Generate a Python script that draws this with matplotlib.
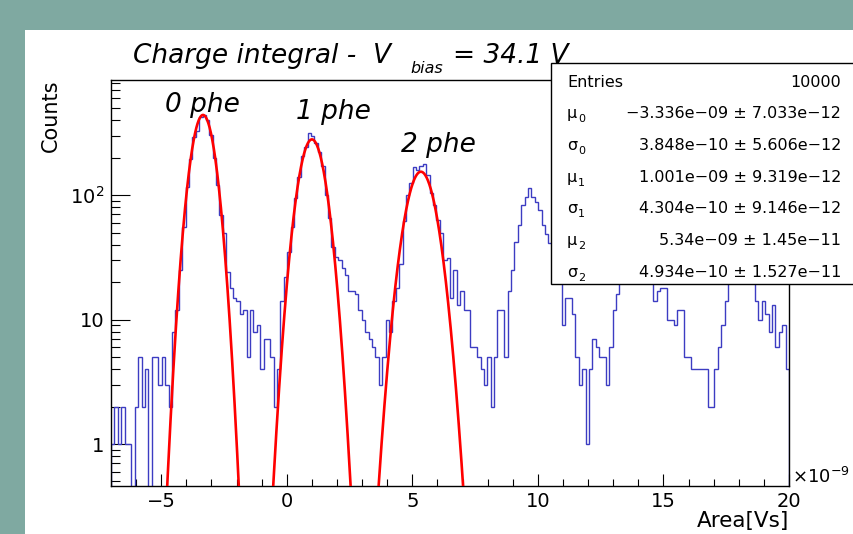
import matplotlib
matplotlib.use("Agg")
import matplotlib.pyplot as plt
import numpy as np
from matplotlib.patches import Rectangle
from matplotlib.ticker import MultipleLocator, LogLocator, NullFormatter

plt.rcParams['font.family'] = ['DejaVu Sans']
plt.rcParams['mathtext.fontset'] = 'dejavusans'

# ---------------- data ----------------
x_min, x_max, n_bins = -7.0, 20.0, 200   # Area in units of 1e-9 Vs
counts = [
    1, 2, 1, 2, 1, 1, 0, 2, 5, 2,
    4, 0, 5, 5, 3, 5, 3, 2, 8, 12,
    25, 55, 117, 196, 290, 330, 425, 440, 400, 302,
    200, 120, 69, 50, 24, 18, 15, 14, 11, 12,
    5, 12, 8, 9, 4, 7, 7, 5, 2, 4,
    14, 22, 35, 55, 95, 140, 205, 245, 318, 300,
    260, 220, 170, 100, 65, 38, 32, 30, 26, 23,
    17, 17, 16, 12, 10, 8, 7, 6, 5, 3,
    5, 10, 8, 14, 18, 28, 62, 100, 124, 169,
    160, 172, 178, 145, 103, 83, 63, 50, 30, 31,
    15, 25, 13, 17, 12, 12, 6, 6, 5, 4,
    3, 5, 2, 5, 12, 12, 5, 17, 25, 42,
    57, 83, 97, 115, 97, 88, 76, 57, 49, 41,
    27, 22, 21, 9, 15, 15, 11, 5, 3, 4,
    1, 4, 7, 6, 5, 5, 3, 6, 12, 16,
    22, 28, 35, 45, 55, 62, 60, 50, 38, 26,
    14, 17, 18, 18, 10, 10, 9, 12, 12, 5,
    5, 4, 4, 4, 4, 4, 2, 2, 4, 6,
    9, 14, 22, 26, 30, 33, 32, 28, 24, 21,
    14, 10, 14, 11, 8, 13, 6, 8, 9, 4,
]
fit_mu = [-3.336, 1.001, 5.34]        # x1e-9
fit_sigma = [0.3848, 0.4304, 0.4934]  # x1e-9
fit_amp = [440, 280, 154]

peak_labels = ["0 phe", "1 phe", "2 phe"]
x_ticks = [-5, 0, 5, 10, 15, 20]
x_tick_labels = ["\u22125", "0", "5", "10", "15", "20"]
y_ticks = [1, 10, 100]
y_tick_labels = ["1", "10", r"$\mathregular{10^{2}}$"]

stat_sym = ["Entries", "\u03bc", "\u03c3", "\u03bc", "\u03c3", "\u03bc", "\u03c3"]
stat_sub = ["", "0", "0", "1", "1", "2", "2"]
stat_val = ["10000",
            "\u22123.336e\u221209 \u00b1 7.033e\u221212",
            "3.848e\u221210 \u00b1 5.606e\u221212",
            "1.001e\u221209 \u00b1 9.319e\u221212",
            "4.304e\u221210 \u00b1 9.146e\u221212",
            "5.34e\u221209 \u00b1 1.45e\u221211",
            "4.934e\u221210 \u00b1 1.527e\u221211"]

# ---------------- figure ----------------
W, H = 854, 534
fig = plt.figure(figsize=(W / 100, H / 100), dpi=100)
fig.patch.set_facecolor('#7fa9a1')


def fx(x):
    return x / W


def fy(y):
    return 1 - y / H


fig.patches.append(Rectangle((fx(25), 0), 1 - fx(25), fy(30), transform=fig.transFigure,
                             facecolor='white', edgecolor='none', zorder=-5))

ax = fig.add_axes([fx(111), fy(486), fx(789) - fx(111), fy(80) - fy(486)])
ax.set_facecolor('white')

edges = np.linspace(x_min, x_max, n_bins + 1)
c = np.array(counts, dtype=float)
c_plot = np.where(c > 0, c, 1e-3)
ax.stairs(c_plot, edges, baseline=1e-3, color='#3c3cc2', lw=1.0, zorder=2)

for mu, sg, amp in zip(fit_mu, fit_sigma, fit_amp):
    xs = np.linspace(mu - 4.6 * sg, mu + 4.6 * sg, 400)
    ax.plot(xs, amp * np.exp(-0.5 * ((xs - mu) / sg) ** 2), color='#ff0000', lw=1.9, zorder=3)

ax.set_yscale('log')
ax.set_xlim(x_min, x_max)
ax.set_ylim(0.46, 840)

ax.set_xticks(x_ticks)
ax.set_xticklabels(x_tick_labels)
ax.xaxis.set_minor_locator(MultipleLocator(1))
ax.set_yticks(y_ticks)
ax.set_yticklabels(y_tick_labels)
ax.yaxis.set_minor_locator(LogLocator(base=10, subs=np.arange(2, 10)))
ax.yaxis.set_minor_formatter(NullFormatter())

ax.tick_params(which='both', direction='in', top=False, right=False, width=0.8, colors='black')
ax.tick_params(axis='x', which='major', length=8.6, labelsize=14, pad=4)
ax.tick_params(axis='x', which='minor', length=5.0)
ax.tick_params(axis='y', which='major', length=13.7, labelsize=14, pad=5)
ax.tick_params(axis='y', which='minor', length=6.3)
for s in ax.spines.values():
    s.set_linewidth(1.0)
    s.set_color('black')

# axis titles
fig.text(fx(789), fy(521), "Area[Vs]", ha='right', va='center', fontsize=15.5)
fig.text(fx(51), fy(80), "Counts", rotation=90, ha='center', va='top', fontsize=15)
fig.text(fx(792), fy(487), r"$\mathregular{\times10^{-9}}$", ha='left', va='bottom', fontsize=13)

# title
fig.text(fx(133), fy(63), "Charge integral -  V", style='italic', fontsize=19, ha='left', va='baseline', zorder=3)
fig.text(fx(410), fy(73), "bias", style='italic', fontsize=11.5, ha='left', va='baseline', zorder=3)
fig.text(fx(453), fy(63), "= 34.1 V", style='italic', fontsize=19, ha='left', va='baseline', zorder=3)

# peak labels
for lab, (px, py) in zip(peak_labels, [(165, 112), (296, 119), (401, 152)]):
    fig.text(fx(px), fy(py), lab, style='italic', fontsize=19, ha='left', va='baseline', zorder=4)

# stats box
fig.patches.append(Rectangle((fx(551), fy(284)), fx(880) - fx(551), fy(62.7) - fy(284),
                             transform=fig.transFigure, facecolor='white', edgecolor='black',
                             lw=1.0, zorder=10))
for k in range(7):
    base = 86.7 + 31.67 * k
    fig.text(fx(567), fy(base), stat_sym[k], fontsize=11.5, ha='left', va='baseline', zorder=11)
    if stat_sub[k]:
        fig.text(fx(578), fy(base + 4), stat_sub[k], fontsize=8, ha='left', va='baseline', zorder=11)
    fig.text(fx(841), fy(base), stat_val[k], fontsize=11.5, ha='right', va='baseline', zorder=11)

fig.savefig("out.png", dpi=100, facecolor=fig.get_facecolor())
